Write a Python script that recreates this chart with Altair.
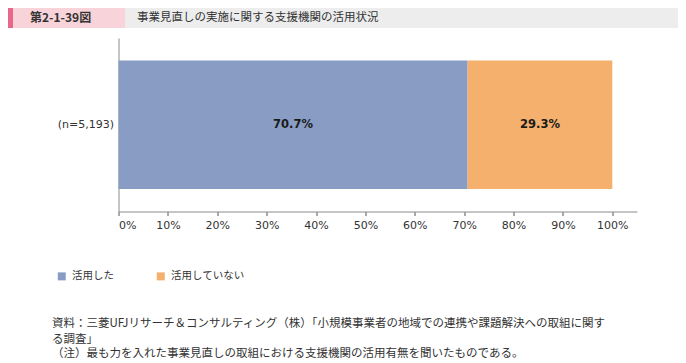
import altair as alt
import pandas as pd

# ---- data ----
categories = ["(n=5,193)"]
series = ["活用した", "活用していない"]
values = [70.7, 29.3]
colors = ["#889CC4", "#F4B06C"]
tick_values = [0, 10, 20, 30, 40, 50, 60, 70, 80, 90, 100]
fig_number = "第2-1-39図"
fig_title = "事業見直しの実施に関する支援機関の活用状況"
notes = [
    "資料：三菱UFJリサーチ＆コンサルティング（株）「小規模事業者の地域での連携や課題解決への取組に関す",
    "る調査」",
    "（注）最も力を入れた事業見直しの取組における支援機関の活用有無を聞いたものである。",
]

df = pd.DataFrame({
    "cat": [categories[0]] * len(series),
    "series": series,
    "value": values,
    "order": list(range(len(series))),
})
one = pd.DataFrame({"k": [0]})

W, H = 518.5, 173.5
PL, PT, PR, PB = 110.5, 30, 41, 151.5
JP = "Noto Sans CJK JP"
LAT = "DejaVu Sans"

bars = alt.Chart(df).mark_bar(strokeWidth=0).encode(
    x=alt.X("value:Q", stack="zero", title=None,
            scale=alt.Scale(domain=[0, 105], nice=False),
            axis=alt.Axis(values=tick_values, labelExpr="datum.value + '%'",
                          grid=False, domainColor="#8c8c8c", tickColor="#555555",
                          tickSize=4, labelPadding=4, labelFont=LAT, labelFontSize=11,
                          labelColor="#333333", labelFlush=True)),
    y=alt.Y("cat:N", title=None,
            scale=alt.Scale(paddingOuter=0.176, paddingInner=0),
            axis=alt.Axis(ticks=False, domainColor="#8c8c8c", labelPadding=5,
                          labelFont=LAT, labelFontSize=11, labelColor="#333333")),
    color=alt.Color("series:N", scale=alt.Scale(domain=series, range=colors),
                    legend=alt.Legend(title=None, orient="none", legendX=-62, legendY=233,
                                      direction="horizontal", symbolType="square",
                                      symbolSize=64, symbolStrokeWidth=0,
                                      labelFont=JP, labelFontSize=10.5, labelColor="#333333",
                                      labelOffset=5, columnPadding=41, padding=0)),
    order=alt.Order("order:Q"),
)

labels = alt.Chart(df).transform_stack(
    stack="value", groupby=["cat"], as_=["x0", "x1"], sort=[alt.SortField("order")]
).transform_calculate(
    mid="(datum.x0 + datum.x1) / 2", lab="format(datum.value, '.1f') + '%'"
).mark_text(font=LAT, fontWeight="bold", fontSize=11.5, color="#1a1a1a").encode(
    x="mid:Q", y="cat:N", text="lab:N"
)

def rect(x1, x2, y1, y2, c):
    return alt.Chart(one).mark_rect(color=c).encode(
        x=alt.value(x1), x2=alt.value(x2), y=alt.value(y1), y2=alt.value(y2))

def txt(s, x, y, size, weight="normal", font=JP):
    return alt.Chart(one).transform_calculate(t=repr(s)).mark_text(
        align="left", baseline="middle", font=font, fontSize=size,
        fontWeight=weight, color="#333333").encode(
        x=alt.value(x), y=alt.value(y), text="t:N")

header = [
    rect(-PL, W + PR, -PT, -PT + 20, "#EDEDED"),
    rect(-PL, 6.5, -PT, -PT + 20, "#F9D3DA"),
    rect(-PL, -PL + 5, -PT, -PT + 20, "#E8678A"),
    txt(fig_number, -88.5, -PT + 10, 12, "bold"),
    txt(fig_title, 18.5, -PT + 10, 11.5),
]
footer = [
    txt(notes[0], -66.5, 286, 11.5),
    txt(notes[1], -66.5, 301.5, 11.5),
    txt(notes[2], -66.5, 316, 11.5),
]

chart = alt.layer(*header, bars, labels, *footer).properties(
    width=W, height=H,
    autosize=alt.AutoSizeParams(type="none"),
    padding={"left": PL, "top": PT, "right": PR, "bottom": PB},
    background="white",
).configure_view(stroke=None)

chart.save("out.html", embed_options={"renderer": "svg", "actions": False})
